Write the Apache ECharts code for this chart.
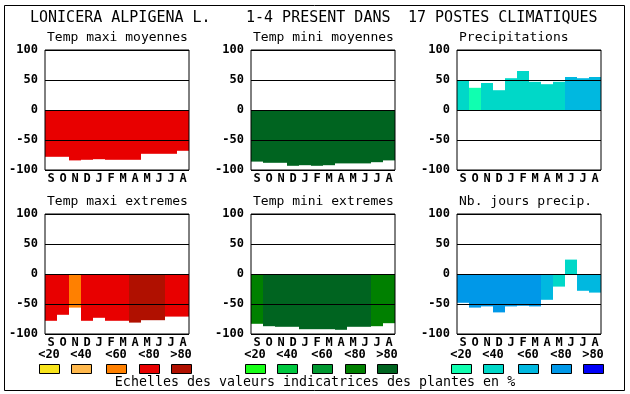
<!DOCTYPE html>
<html>
<head>
<meta charset="utf-8">
<script src="https://cdn.jsdelivr.net/npm/echarts@6/dist/echarts.min.js"></script>
<style>html,body{margin:0;padding:0;background:#fff;}#c{width:630px;height:394px;}</style>
</head>
<body>
<div id="c"></div>
<script>
// ---- data ----
const months = ['S','O','N','D','J','F','M','A','M','J','J','A'];
const yTicks = [-100, -50, 0, 50, 100];
const scaleLabels = ['<20','<40','<60','<80','>80'];
const mainTitleParts = ['LONICERA ALPIGENA L.', '1-4 PRESENT DANS', '17 POSTES CLIMATIQUES'];
const caption = 'Echelles des valeurs indicatrices des plantes en %';

const panelTitles = ['Temp maxi moyennes','Temp mini moyennes','Precipitations','Temp maxi extremes','Temp mini extremes','Nb. jours precip.'];

const tempMaxiMoy = [-78,-78,-84,-83,-82,-83,-83,-83,-73,-73,-73,-68];
const tempMiniMoy = [-86,-88,-88,-93,-92,-93,-92,-89,-89,-89,-87,-84];
const precip      = [49,37,45,33,53,65,47,43,47,55,53,55];
const tempMaxiExt = [-78,-68,-56,-78,-73,-78,-78,-81,-77,-77,-71,-71];
const tempMiniExt = [-83,-87,-88,-88,-92,-92,-92,-93,-88,-88,-87,-82];
const nbJours     = [-48,-56,-54,-64,-54,-53,-54,-43,-21,24,-28,-31];

// indicator class (0..4 => <20 <40 <60 <80 >80)
const clsTempMaxiMoy = [3,3,3,3,3,3,3,3,3,3,3,3];
const clsTempMiniMoy = [4,4,4,4,4,4,4,4,4,4,4,4];
const clsPrecip      = [1,0,1,1,1,1,1,1,1,2,2,2];
const clsTempMaxiExt = [3,3,2,3,3,3,3,4,4,4,3,3];
const clsTempMiniExt = [3,4,4,4,4,4,4,4,4,4,3,3];
const clsNbJours     = [3,3,3,3,3,3,3,2,1,1,2,2];

const redScale   = ['#F8E41C','#FFB84C','#FF8000','#E80000','#B01000'];
const greenScale = ['#18FF18','#00C840','#009830','#008000','#006420'];
const blueScale  = ['#10FFB0','#00D8C8','#00B8E0','#0098E8','#0000F8'];

// ---- layout ----
const FONT = 'DejaVu Sans Mono';
const colLeft = [45, 251, 457];
const rowTop = [50, 214];
const PW = 144, PH = 120;
const swatchOffsets = [4, 36, 71, 104, 136];

const panels = [
  {vals: tempMaxiMoy, cls: clsTempMaxiMoy, scale: redScale},
  {vals: tempMiniMoy, cls: clsTempMiniMoy, scale: greenScale},
  {vals: precip,      cls: clsPrecip,      scale: blueScale},
  {vals: tempMaxiExt, cls: clsTempMaxiExt, scale: redScale},
  {vals: tempMiniExt, cls: clsTempMiniExt, scale: greenScale},
  {vals: nbJours,     cls: clsNbJours,     scale: blueScale}
];

const grids = [], xAxes = [], yAxes = [], series = [];
const graphics = [];

graphics.push({type:'rect', shape:{x:4.5,y:5.5,width:620,height:385}, style:{fill:null, stroke:'#000', lineWidth:1}, silent:true});
const titleX = [30, 246, 408];
mainTitleParts.forEach((t,i)=>graphics.push({type:'text', x:titleX[i], y:18.5, style:{text:t, fill:'#000', font:'15px "'+FONT+'"', verticalAlign:'middle', align:'left'}}));

panels.forEach((p,i)=>{
  const col = i%3, row = Math.floor(i/3);
  const left = colLeft[col], top = rowTop[row];
  grids.push({left:left, top:top, width:PW, height:PH, show:true, borderColor:'#000', borderWidth:1, backgroundColor:'transparent', z:5});
  xAxes.push({gridIndex:i, type:'category', data:months, axisLine:{show:false}, axisTick:{show:false}, splitLine:{show:false},
    axisLabel:{interval:0, margin:3, color:'#000', fontFamily:FONT, fontWeight:'bold', fontSize:12}});
  yAxes.push({gridIndex:i, type:'value', min:yTicks[0], max:yTicks[yTicks.length-1], interval:50, z:5,
    axisLine:{show:false}, axisTick:{show:false},
    axisLabel:{margin:7, color:'#000', fontFamily:FONT, fontWeight:'bold', fontSize:12},
    splitLine:{show:true, lineStyle:{color:'#000', width:1}}});
  series.push({type:'bar', xAxisIndex:i, yAxisIndex:i, barWidth:'100%', barGap:'0%', barCategoryGap:'0%', z:1,
    data:p.vals.map((v,k)=>({value:v, itemStyle:{color:p.scale[p.cls[k]]}}))});
  graphics.push({type:'text', x:left+2, y:top-12, style:{text:panelTitles[i], fill:'#000', font:'13px "'+FONT+'"', verticalAlign:'middle', align:'left'}});
  if (row === 1) {
    swatchOffsets.forEach((o,k)=>{
      const cx = left + o;
      graphics.push({type:'text', x:cx, y:354.5, style:{text:scaleLabels[k], fill:'#000', font:'bold 12px "'+FONT+'"', verticalAlign:'middle', align:'center'}});
      graphics.push({type:'rect', shape:{x:Math.round(cx-10)+0.5, y:364.5, width:20, height:9}, style:{fill:p.scale[k], stroke:'#000', lineWidth:1}});
    });
  }
});
graphics.push({type:'text', x:315, y:382.5, style:{text:caption, fill:'#000', font:'13.3px "'+FONT+'"', verticalAlign:'middle', align:'center'}});

const chart = echarts.init(document.getElementById('c'), null, {renderer:'canvas'});
chart.setOption({animation:false, backgroundColor:'#fff', grid:grids, xAxis:xAxes, yAxis:yAxes, series:series, graphic:graphics});
</script>
</body>
</html>
